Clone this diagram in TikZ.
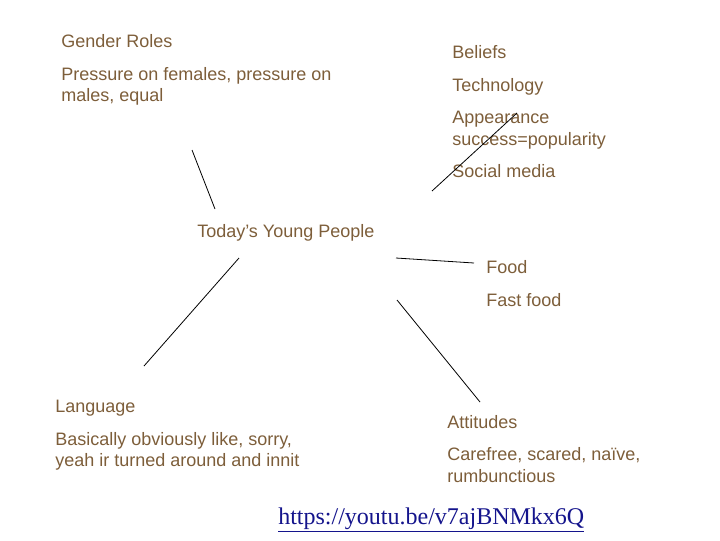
\documentclass[tikz,border=0pt]{standalone}
\usepackage{fontspec}
\setmainfont{Liberation Sans}
\newfontfamily\urlserif{Liberation Serif}
\definecolor{txtbrown}{RGB}{125,94,58}
\definecolor{urlblue}{RGB}{20,20,140}
\begin{document}
\begin{tikzpicture}[x=0.75pt,y=-0.75pt,
  lbl/.style={anchor=base west,inner sep=0pt,text=txtbrown,font=\fontsize{13.5}{16.5}\selectfont},
  spoke/.style={draw=black,line width=0.6pt}]
\useasboundingbox (0,0) rectangle (720,540);
% Gender roles
\node[lbl] (gr) at (61,47) {Gender Roles};
\node[lbl] (gr1) at (61,80) {Pressure on females, pressure on};
\node[lbl] (gr2) at (61,101) {males, equal};
% Beliefs group
\node[lbl] (bel) at (452,58) {Beliefs};
\node[lbl] (tech) at (452,91) {Technology};
\node[lbl] (app) at (452,123) {Appearance};
\node[lbl] (succ) at (452,145) {success=popularity};
\node[lbl] (soc) at (452,177) {Social media};
% centre
\node[lbl] (typ) at (197,237) {Today’s Young People};
% Food
\node[lbl] (food) at (486,273) {Food};
\node[lbl] (fast) at (486,306) {Fast food};
% Language
\node[lbl] (lang) at (55,412) {Language};
\node[lbl] (lang1) at (55,445) {Basically obviously like, sorry,};
\node[lbl] (lang2) at (55,466) {yeah ir turned around and innit};
% Attitudes
\node[lbl] (att) at (447,428) {Attitudes};
\node[lbl] (att1) at (447,460) {Carefree, scared, naïve,};
\node[lbl] (att2) at (447,482) {rumbunctious};
% URL
\node[anchor=base west,inner sep=0pt,text=urlblue,font=\urlserif\fontsize{18}{22}\selectfont] (url) at (278,524) {\underline{https://youtu.be/v7ajBNMkx6Q}};
% spokes
\coordinate (g1) at (192,150); \coordinate (g2) at (215,209);
\coordinate (s1) at (432,191); \coordinate (s2) at (517,113);
\coordinate (f1) at (396,258); \coordinate (f2) at (474,263);
\coordinate (l1) at (239,258); \coordinate (l2) at (144,366);
\coordinate (a1) at (397,300); \coordinate (a2) at (480,402);
\draw[spoke] (g1) -- (g2);
\draw[spoke] (s1) -- (s2);
\draw[spoke] (f1) -- (f2);
\draw[spoke] (l1) -- (l2);
\draw[spoke] (a1) -- (a2);
\end{tikzpicture}
\end{document}
